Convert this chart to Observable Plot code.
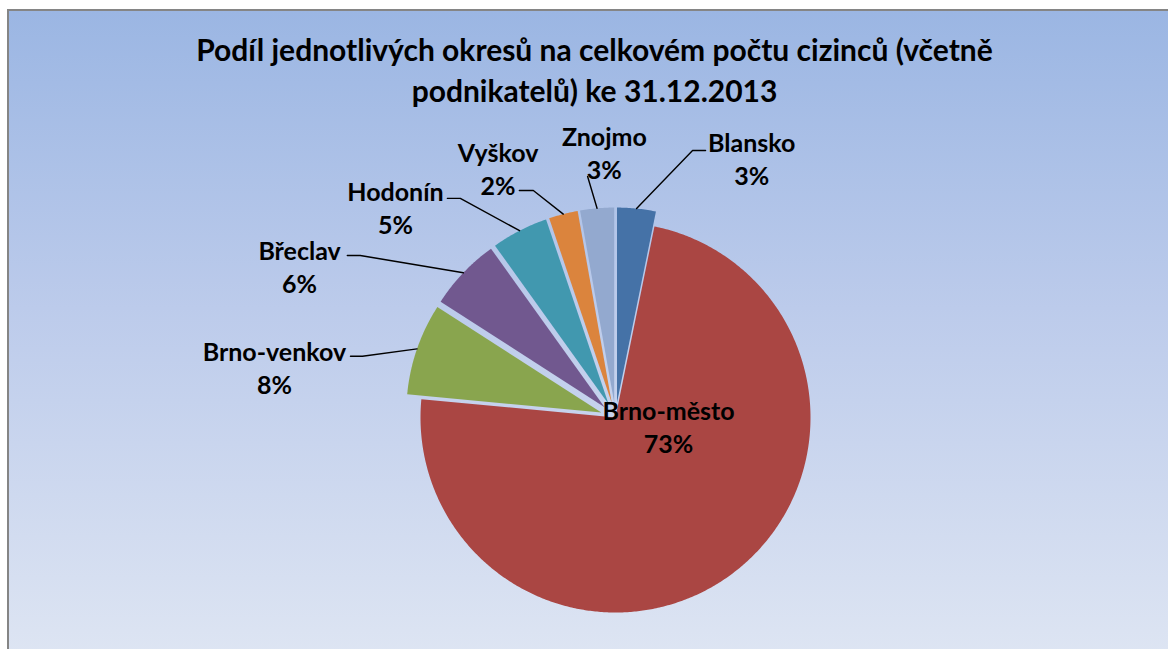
<!DOCTYPE html>
<html><head><meta charset="utf-8">
<script src="https://cdn.jsdelivr.net/npm/d3@7"></script>
<script src="https://cdn.jsdelivr.net/npm/@observablehq/plot@0.6"></script>
<style>
html,body{margin:0;padding:0;background:#fff;overflow:hidden}
#wrap{position:relative;width:1168px;height:649px;overflow:hidden}
#box{position:absolute;left:7px;top:9px;width:1180px;height:660px;border-left:2px solid #858585;border-top:2px solid #858585;
 background:linear-gradient(to bottom,#9bb6e3 0%,#bccbeb 45%,#dfe6f3 100%)}
#title{position:absolute;left:8px;width:1173px;top:29px;text-align:center;font-family:Lato,"Open Sans",sans-serif;font-weight:bold;font-size:30px;line-height:41px;color:#000}
#chart{position:absolute;left:0;top:0}
</style></head><body>
<div id="wrap"><div id="box"></div>
<div id="title">Podíl jednotlivých okresů na celkovém počtu cizinců (včetně<br>podnikatelů) ke 31.12.2013</div>
<div id="chart"></div></div>
<script>
// ---- data ----
const districts = ["Blansko","Brno-město","Brno-venkov","Břeclav","Hodonín","Vyškov","Znojmo"];
const shares = [3.2, 73.3, 7.6, 6.0, 4.7, 2.4, 2.8];
const palette = ["#4572A7","#AA4643","#89A54E","#71588F","#4198AF","#DB843D","#93A9CF"];

// ---- layout ----
const W = 1168, H = 649, CX = 615, CY = 417, R = 195;
const explode = [15, 0, 15, 15, 15, 15, 15];                 // px offset of each slice
const labelPolar = [[27.7,1.502],[98.6,0.275],[278.4,1.768],[295.7,1.798],[313.7,1.561],[334.8,1.414],[357.6,1.363]];
const elbowPolar = [[16.1,1.425],null,[283.6,1.335],[302.4,1.55],[324.7,1.377],[340.1,1.238],[353.4,1.244]];
const tails = [13, 0, -12, -13, -13, -14, 0];               // px horizontal tail of leader

const data = districts.map((name, i) => ({name, share: shares[i], i}));
const arcs = d3.pie().sort(null).value(d => d.share)(data);
const total = d3.sum(shares);
const rad = deg => deg * Math.PI / 180;

const polys = [];
const leaders = [];
const labels = [];
arcs.forEach(a => {
  const i = a.data.i;
  const mid = (a.startAngle + a.endAngle) / 2;
  const ox = explode[i] / R * Math.sin(mid), oy = explode[i] / R * Math.cos(mid);
  polys.push({name: a.data.name, x: ox, y: oy});
  const n = Math.max(4, Math.ceil((a.endAngle - a.startAngle) * 180 / Math.PI * 2));
  for (let s = 0; s <= n; ++s) {
    const t = a.startAngle + (a.endAngle - a.startAngle) * s / n;
    polys.push({name: a.data.name, x: ox + Math.sin(t), y: oy + Math.cos(t)});
  }
  const pct = Math.round(a.data.share / total * 100) + "%";
  const lp = labelPolar[i];
  labels.push({name: a.data.name, text: a.data.name + "\n" + pct,
    x: lp[1] * Math.sin(rad(lp[0])), y: lp[1] * Math.cos(rad(lp[0]))});
  const ep = elbowPolar[i];
  if (ep) {
    const sx = ox + Math.sin(mid), sy = oy + Math.cos(mid);
    const ex = ep[1] * Math.sin(rad(ep[0])), ey = ep[1] * Math.cos(rad(ep[0]));
    leaders.push({name: a.data.name, x: sx, y: sy});
    leaders.push({name: a.data.name, x: ex, y: ey});
    if (tails[i]) leaders.push({name: a.data.name, x: ex + tails[i] / R, y: ey});
  }
});

const font = "Lato, 'Open Sans', sans-serif";
const plot = Plot.plot({
  width: W, height: H,
  margin: 0,
  style: {background: "transparent", overflow: "visible"},
  x: {domain: [-CX / R, (W - CX) / R], axis: null},
  y: {domain: [(CY - H) / R, CY / R], axis: null},
  color: {domain: districts, range: palette},
  marks: [
    Plot.line(polys, {x: "x", y: "y", z: "name", fill: "name", stroke: null, curve: "linear-closed"}),
    Plot.line(leaders, {x: "x", y: "y", z: "name", stroke: "#000", strokeWidth: 1.4}),
    Plot.text(labels, {x: "x", y: "y", text: "text", fontSize: 25, fontWeight: "bold", fontFamily: font,
      fill: "#000", lineHeight: 1.32, lineAnchor: "middle"})
  ]
});
document.getElementById("chart").appendChild(plot);
</script>
</body></html>
